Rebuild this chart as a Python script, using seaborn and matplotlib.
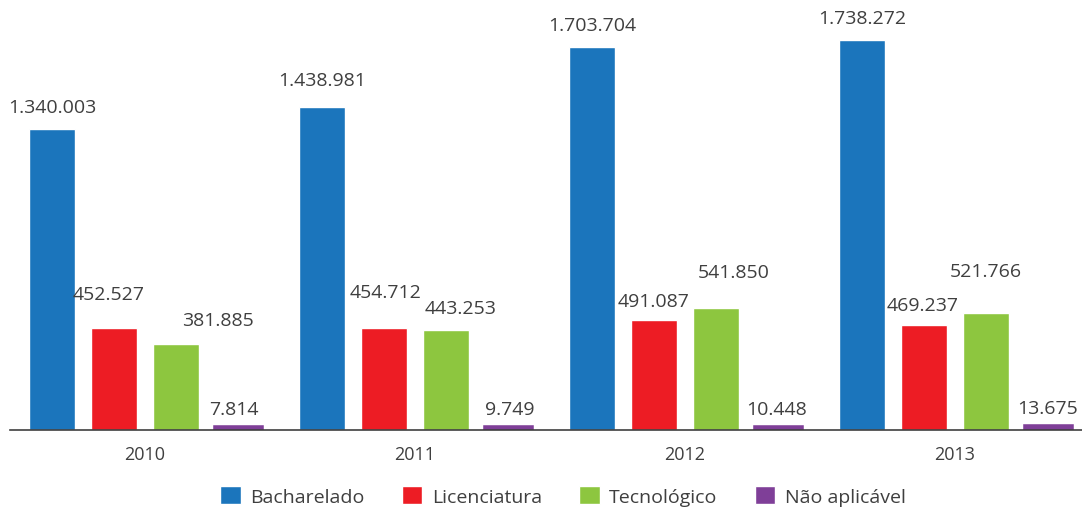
#!/usr/bin/env python3
"""
Grouped bar chart: enrolments by degree type, 2010-2013.
"""
import matplotlib

matplotlib.use("Agg")
import matplotlib.pyplot as plt
import pandas as pd
import seaborn as sns
from matplotlib.patches import Patch

YEARS = ["2010", "2011", "2012", "2013"]
DEGREES = ["Bacharelado", "Licenciatura", "Tecnológico", "Não aplicável"]
BACHARELADO = [1340003, 1438981, 1703704, 1738272]
LICENCIATURA = [452527, 454712, 491087, 469237]
TECNOLOGICO = [381885, 443253, 541850, 521766]
NAO_APLICAVEL = [7814, 9749, 10448, 13675]

COLORS = ["#1b75bc", "#ed1c24", "#8dc63f", "#7f3f98"]
TEXT = "#3f3f3f"

# the source placed its value labels by hand; nudges in pixels (dx, height above bar top)
LABEL_DX = [[0, 0, 0, 0], [-5, 2, 0, -1], [42, 14, 18, 0], [-4, 2, -2, -1]]
LABEL_DY = [[22, 27, 22, 22], [34, 36, 19, 20], [24, 22, 36, 42], [19, 19, 19, 19]]


def fmt(v: int) -> str:
    return f"{v:,}".replace(",", ".")


def main() -> None:
    sns.set_style("white")
    plt.rcParams["font.family"] = ["Open Sans", "DejaVu Sans"]

    series = [BACHARELADO, LICENCIATURA, TECNOLOGICO, NAO_APLICAVEL]
    df = pd.DataFrame(
        [(y, d, v) for d, vals in zip(DEGREES, series) for y, v in zip(YEARS, vals)],
        columns=["Ano", "Grau", "Total"],
    )

    fig = plt.figure(figsize=(10.82, 5.10), dpi=100)
    ax = fig.add_axes([10 / 1082, 79 / 510, 1072 / 1082, 431 / 510])
    sns.barplot(
        data=df, x="Ano", y="Total", hue="Grau", order=YEARS, hue_order=DEGREES,
        palette=COLORS, width=0.92, gap=0.27, saturation=1, legend=False, ax=ax,
    )

    # tiny values: thicken the purple bars so they stay visible like the original
    for p in ax.containers[3]:
        p.set_edgecolor(COLORS[3])
        p.set_linewidth(4)

    px = 72 / fig.dpi
    for i, cont in enumerate(ax.containers):
        for j, p in enumerate(cont):
            ax.annotate(
                fmt(series[i][j]),
                (p.get_x() + p.get_width() / 2, p.get_height()),
                xytext=(LABEL_DX[i][j] * px, LABEL_DY[i][j] * px),
                textcoords="offset points", ha="center", va="center",
                fontsize=14, color=TEXT,
            )

    ax.set_xlim(-0.5, 3.47)
    ax.set_ylim(0, 1.919e6)
    ax.set_yticks([])
    ax.set_xlabel("")
    ax.set_ylabel("")
    for side in ["top", "right", "left"]:
        ax.spines[side].set_visible(False)
    ax.spines["bottom"].set_color(TEXT)
    ax.spines["bottom"].set_linewidth(1.2)
    ax.spines["bottom"].set_zorder(5)
    ax.tick_params(axis="x", length=0, pad=11, labelsize=13, labelcolor=TEXT)

    handles = [Patch(facecolor=c) for c in COLORS]
    fig.legend(
        handles, DEGREES, loc="center", bbox_to_anchor=(563 / 1082, 1 - 497 / 510),
        ncol=4, frameon=False, fontsize=14, handlelength=1.05, handleheight=1.05,
        handletextpad=0.5, columnspacing=1.9, labelcolor=TEXT,
    )

    fig.savefig("out.png", dpi=100)
    plt.close(fig)


if __name__ == "__main__":
    main()
